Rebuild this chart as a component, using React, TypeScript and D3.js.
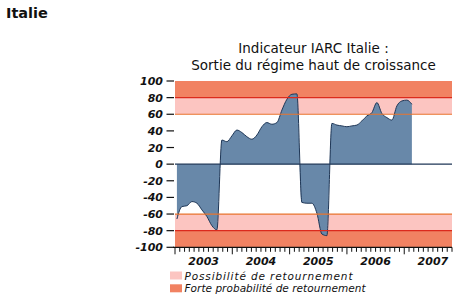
import React from "react";
import * as d3 from "d3";

const pageTitle = "Italie";
const titleLines = ["Indicateur IARC Italie :", "Sortie du régime haut de croissance"];
const yTicks = [100, 80, 60, 40, 20, 0, -20, -40, -60, -80, -100];
const years = ["2003", "2004", "2005", "2006", "2007"];
const legendLabels = ["Possibilité de retournement", "Forte probabilité de retournement"];

// indicator values (approx. monthly, starting early 2003)
const values = [
  -66, -51, -50, -45, -47, -55, -63, -74, -79,
  29, 27, 34, 41, 38, 33, 30, 35, 45, 50, 48, 50, 65, 78, 84, 84.5,
  -46, -47, -47, -59, -84, -86,
  49, 47, 46, 45, 46, 47, 52, 58, 62, 74, 61, 56, 53, 70, 76, 77, 72,
];

const W = 471;
const H = 299;
const axisMonths = 58;
const dataStartMonth = 0.4;
const dataEndMonth = 49.6;
const legendWidths = [168, 181];

const COL_STRONG = "#f18262";
const COL_LIGHT = "#fcc5c1";
const COL_RED = "#dc2a1c";
const COL_ORANGE = "#e8752e";
const COL_FILL = "#6888a9";
const COL_LINE = "#1e3656";

export default function App() {
  const x = d3.scaleLinear().domain([0, axisMonths]).range([175, 452]);
  const y = d3.scaleLinear().domain([-100, 100]).range([247.3, 81]);
  const idx = d3.scaleLinear().domain([0, values.length - 1]).range([dataStartMonth, dataEndMonth]);

  const area = d3
    .area<number>()
    .x((_, i) => x(idx(i)))
    .y0(y(0))
    .y1((d) => y(d))
    .curve(d3.curveMonotoneX);
  const line = d3
    .line<number>()
    .x((_, i) => x(idx(i)))
    .y((d) => y(d))
    .curve(d3.curveMonotoneX);

  const x0 = x(0);
  const x1 = x(axisMonths);
  const months = d3.range(0, axisMonths + 1);

  const tickFont = {
    fontFamily: "DejaVu Sans, sans-serif",
    fontSize: 11,
    fontStyle: "italic",
    fontWeight: "bold",
  } as const;

  return (
    <svg width={W} height={H} style={{ position: "absolute", left: 0, top: 0 }}>
      <rect width={W} height={H} fill="#fff" />
      <text x={6} y={17.5} fontFamily="DejaVu Sans, sans-serif" fontSize={14.5} fontWeight="bold" fill="#111">
        {pageTitle}
      </text>
      {titleLines.map((t, i) => (
        <text
          key={t}
          x={313.5}
          y={53 + i * 17}
          textAnchor="middle"
          fontFamily="DejaVu Sans, sans-serif"
          fontSize={13.5}
          fill="#111"
        >
          {t}
        </text>
      ))}

      {/* bands */}
      <rect x={x0} y={y(100)} width={x1 - x0} height={y(80) - y(100)} fill={COL_STRONG} />
      <rect x={x0} y={y(80)} width={x1 - x0} height={y(60) - y(80)} fill={COL_LIGHT} />
      <rect x={x0} y={y(-60)} width={x1 - x0} height={y(-80) - y(-60)} fill={COL_LIGHT} />
      <rect x={x0} y={y(-80)} width={x1 - x0} height={y(-100) - y(-80)} fill={COL_STRONG} />

      {/* area */}
      <path d={area(values) || ""} fill={COL_FILL} />
      <path d={line(values) || ""} fill="none" stroke={COL_LINE} strokeWidth={1} />

      {/* threshold lines */}
      {[80, -80].map((v) => (
        <line key={v} x1={x0} x2={x1} y1={y(v)} y2={y(v)} stroke={COL_RED} strokeWidth={1.2} />
      ))}
      {[60, -60].map((v) => (
        <line key={v} x1={x0} x2={x1} y1={y(v)} y2={y(v)} stroke={COL_ORANGE} strokeWidth={1.2} />
      ))}
      <line x1={x0} x2={x1} y1={y(0)} y2={y(0)} stroke={COL_LINE} strokeWidth={1.3} />

      {/* y axis */}
      {yTicks.map((v) => (
        <g key={v}>
          <line x1={166.5} x2={174} y1={y(v)} y2={y(v)} stroke="#111" strokeWidth={1.2} />
          <text x={163} y={y(v) + 4} textAnchor="end" {...tickFont} fill="#111">
            {v}
          </text>
        </g>
      ))}

      {/* x axis */}
      <line x1={x0 - 2} x2={x1} y1={y(-100)} y2={y(-100)} stroke="#111" strokeWidth={1.2} />
      {months.map((m) => (
        <line
          key={m}
          x1={x(m)}
          x2={x(m)}
          y1={y(-100)}
          y2={y(-100) + (m % 12 === 0 ? 7 : 4.5)}
          stroke="#111"
          strokeWidth={1}
        />
      ))}
      {years.map((yr, i) => (
        <text key={yr} x={x(i * 12 + 6)} y={264.5} textAnchor="middle" {...tickFont} fill="#111">
          {yr}
        </text>
      ))}

      {/* legend */}
      {legendLabels.map((t, i) => (
        <g key={t}>
          <rect x={170} y={271.5 + i * 12.8} width={12} height={8} fill={i === 0 ? COL_LIGHT : COL_STRONG} />
          <text
            x={184.5}
            y={279.5 + i * 12.8}
            fontFamily="DejaVu Sans, sans-serif"
            fontSize={10.5}
            fontStyle="italic"
            textLength={legendWidths[i]}
            lengthAdjust="spacing"
            fill="#111"
          >
            {t}
          </text>
        </g>
      ))}
    </svg>
  );
}
